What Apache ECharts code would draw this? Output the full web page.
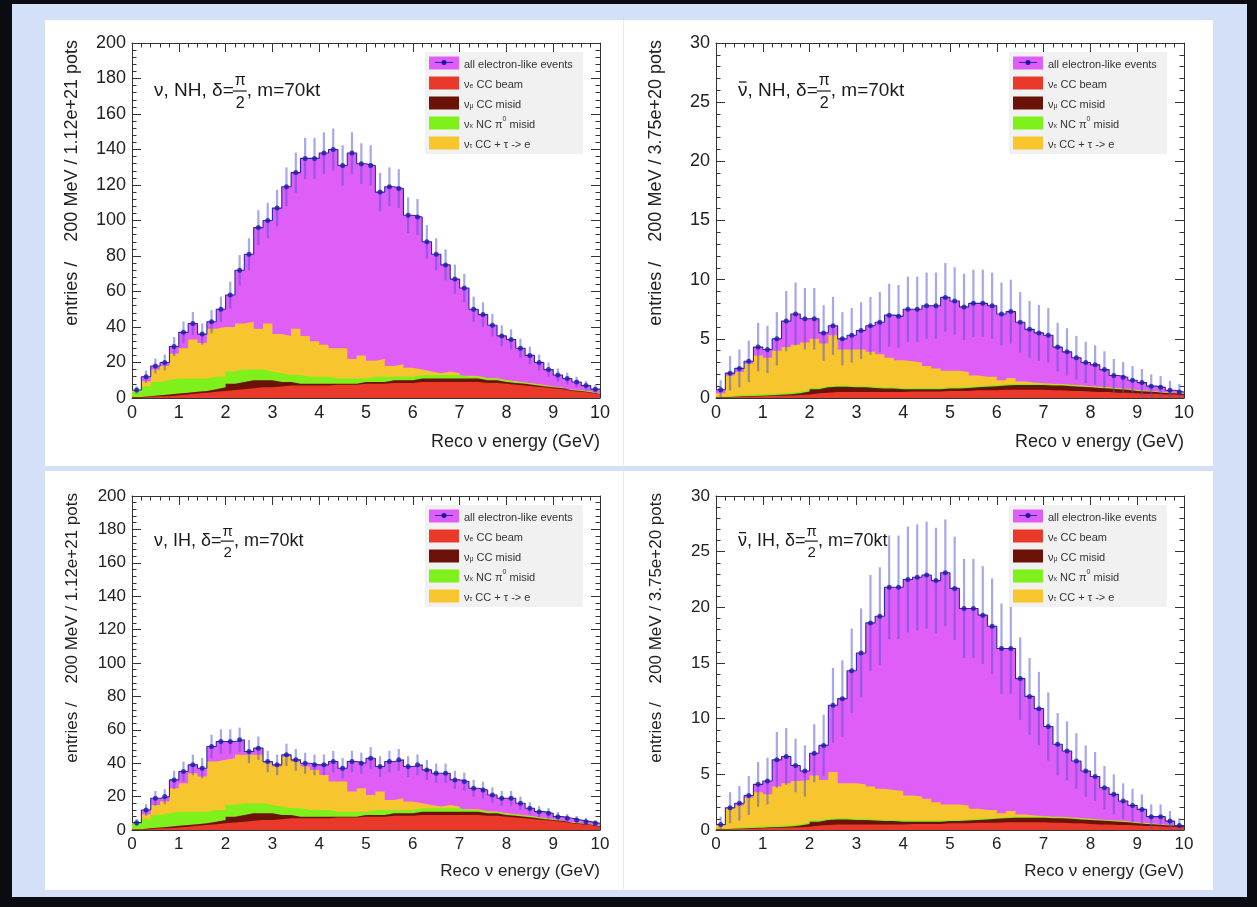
<!DOCTYPE html>
<html><head><meta charset="utf-8">
<script src="https://cdn.jsdelivr.net/npm/echarts@6/dist/echarts.min.js"></script>
<style>
html,body{margin:0;padding:0;width:1257px;height:907px;overflow:hidden;background:#0b0b12;}
#frame{position:absolute;left:12px;top:4px;width:1235px;height:893px;background:#d3e0f7;}
.pane{position:absolute;background:#fff;}
.vdiv{position:absolute;width:1px;background:#ececec;}
#chart{position:absolute;left:0;top:0;width:1257px;height:907px;}
</style></head><body>
<div id="frame"></div>
<div class="pane" style="left:45px;top:20px;width:1168px;height:446px"></div>
<div class="pane" style="left:45px;top:471px;width:1168px;height:419px"></div>
<div class="vdiv" style="left:623px;top:20px;height:446px"></div>
<div class="vdiv" style="left:623px;top:471px;height:419px"></div>
<div id="chart"></div>
<script>
// ---------------- data ----------------
const BIN_WIDTH = 0.2;   // GeV per bin (200 MeV)
const N_BINS = 50;
const X_MIN = 0, X_MAX = 10;

const seriesNames = ['all electron-like events', 'νe CC beam', 'νμ CC misid', 'νx NC π0 misid', 'ντ CC + τ -> e'];

// ν, NH
const nuNH_total = [4.5,12,18,20,29,37,42,36,43,50,58,72,81,96,100,107,119,127,135,135,138,140,131,138,132,131,116,119,118,103,102,88,81,75,67,62,50,47,41,35,33,28,24,20,16,13,11,9,7,5];
const nuNH_err   = [2.1,3.5,4.2,4.5,5.4,6.1,6.5,6,6.6,7.1,7.6,8.5,9,9.8,10,10.3,10.9,11.3,11.6,11.6,11.7,11.8,11.4,11.7,11.5,11.4,10.8,10.9,10.9,10.1,10.1,9.4,9,8.7,8.2,7.9,7.1,6.9,6.4,5.9,5.7,5.3,4.9,4.5,4,3.6,3.3,3,2.6,2.2];
const nuNH_beam  = [0.3,0.5,1,1,1.5,2,2.5,3,3.5,4,4.5,5,5.5,6,6,6.5,7,7,7,7,7,7.5,7.5,7.5,8,8,8,8.5,8.5,8.5,9,9,9,9,9,9,9,8.5,8.5,8,7.5,7,6.5,6,5.5,5,4,3.5,3,2];
const nuNH_numu  = [0.2,0.5,0.5,1,1,1,1,1,1.5,2,3.5,4,4.5,4,4,2.5,2,1,1,1,1,0.5,0.5,0.5,1,1,1,1.5,1.5,1.5,2,2,2,2,2,2,2,1.5,1.5,1,1,1,0.8,0.6,0.5,0.5,0.4,0.4,0.3,0.2];
const nuNH_nc    = [3.5,5.5,7.5,8,8.5,8,7.5,7,7,6,7,7,6,6,5,5,4,5,4,4,4,3,3,3,2,3,3,2,2,2,2,2,2,2,2,1,1,1,0.8,0.8,0.7,0.6,0.6,0.5,0.4,0.4,0.3,0.3,0.2,0.2];
const nuNH_nutau = [0.2,3,7,8,14,17,22,20,27,28,25,26,27,23,27,22,22,26,23,20,18,17,17,11,13,9,10,6,7,5,3,2,1,2,1,0.5,0.4,0.3,0.3,0.3,0.2,0.2,0.2,0.2,0.1,0.1,0.1,0.1,0.1,0.1];

// ν̄, NH
const nubarNH_total = [0.7,2.1,2.5,3.1,4.3,4.1,5.0,6.5,7.1,6.7,6.7,5.5,6.1,5.0,5.3,5.7,6.1,6.4,7.0,6.9,7.5,7.5,7.8,7.8,8.5,8.2,7.7,8.0,8.0,7.8,7.1,7.3,6.4,5.8,5.5,5.3,4.3,3.9,3.4,3.0,2.8,2.4,1.9,1.75,1.5,1.3,1.0,0.9,0.65,0.5];
const nubarNH_err   = [0.8,1.45,1.6,1.75,2.05,2.0,2.25,2.55,2.65,2.6,2.6,2.35,2.45,2.25,2.3,2.4,2.45,2.55,2.65,2.65,2.75,2.75,2.8,2.8,2.9,2.85,2.8,2.85,2.85,2.8,2.65,2.7,2.55,2.4,2.35,2.3,2.05,2.0,1.85,1.75,1.65,1.55,1.4,1.3,1.2,1.15,1.0,0.95,0.8,0.7];
const nubarNH_beam  = [0.05,0.08,0.1,0.12,0.15,0.18,0.2,0.22,0.25,0.3,0.4,0.45,0.5,0.5,0.5,0.5,0.5,0.5,0.5,0.5,0.55,0.55,0.55,0.55,0.6,0.6,0.6,0.65,0.65,0.65,0.7,0.7,0.7,0.7,0.7,0.65,0.65,0.6,0.6,0.55,0.5,0.5,0.45,0.45,0.4,0.35,0.35,0.3,0.3,0.25];
const nubarNH_numu  = [0.02,0.03,0.04,0.05,0.05,0.06,0.08,0.1,0.15,0.25,0.35,0.45,0.45,0.45,0.4,0.4,0.35,0.3,0.3,0.25,0.2,0.2,0.2,0.2,0.2,0.2,0.25,0.25,0.3,0.35,0.35,0.4,0.4,0.4,0.4,0.4,0.4,0.4,0.35,0.35,0.35,0.3,0.3,0.25,0.2,0.2,0.15,0.12,0.1,0.08];
const nubarNH_nc    = [0.05,0.1,0.1,0.12,0.12,0.12,0.12,0.12,0.12,0.12,0.12,0.1,0.1,0.1,0.1,0.1,0.1,0.1,0.1,0.1,0.1,0.1,0.1,0.1,0.1,0.1,0.1,0.1,0.1,0.1,0.1,0.1,0.1,0.1,0.1,0.08,0.08,0.08,0.08,0.06,0.06,0.06,0.05,0.05,0.05,0.04,0.04,0.03,0.03,0.02];
const nubarNH_nutau = [0.28,1.69,1.96,2.61,3.28,3.04,3.6,3.86,3.98,4.03,4.13,3.6,4.25,3.05,3.1,3.1,2.95,2.8,2.5,2.35,2.25,2.15,1.85,1.65,1.4,1.4,1.25,0.9,0.75,0.7,0.35,0.5,0.2,0.1,0.05,0.07,0.05,0.05,0.04,0.04,0.04,0.04,0.03,0.03,0.03,0.03,0.02,0.02,0.02,0.02];

// ν, IH
const nuIH_total = [4.4,12,19,20,30,35,39,37,50,53,53,54,47,49,41,39,45,42,40,39,39,41,37,41,40,43,38,41,42,38,39,36,34,34,30,29,25,24,21,19,19,16,13,11,10,8,7,6,5,4];
const nuIH_err   = [2.1,3.5,4.4,4.5,5.5,5.9,6.2,6.1,7.1,7.3,7.3,7.3,6.9,7,6.4,6.2,6.7,6.5,6.3,6.2,6.2,6.4,6.1,6.4,6.3,6.6,6.2,6.4,6.5,6.2,6.2,6,5.8,5.8,5.5,5.4,5,4.9,4.6,4.4,4.4,4,3.6,3.3,3.2,2.8,2.6,2.4,2.2,2];
const nuIH_beam  = [0.3,0.5,1,1,1.5,2,2.5,3,3.5,4,4.5,5,5.5,6,6,6.5,7,7,7,7,7,7.5,7.5,7.5,8,8,8,8.5,8.5,8.5,9,9,9,9,9,9,9,8.5,8.5,8,7.5,7,6.5,6,5.5,5,4,3.5,3,2];
const nuIH_numu  = [0.2,0.5,0.5,1,1,1,1,1,1.5,2,3.5,4,4.5,4,4,2.5,2,1,1,1,1,0.5,0.5,0.5,1,1,1,1.5,1.5,1.5,2,2,2,2,2,2,2,1.5,1.5,1,1,1,0.8,0.6,0.5,0.5,0.4,0.4,0.3,0.2];
const nuIH_nc    = [3.5,5.5,7.5,8,8.5,8,7.5,7,7,6,7,7,6,6,5,5,4,5,4,4,4,3,3,3,2,3,3,2,2,2,2,2,2,2,2,1,1,1,0.8,0.8,0.7,0.6,0.6,0.5,0.4,0.4,0.3,0.3,0.2,0.2];
const nuIH_nutau = [0.2,3,6,7,14,17,23,21,29,30,28,29,29,29,25,24,31,28,26,24,21,18,18,12,14,9,11,6,7,5,3,2,1,2,1,0.5,0.4,0.3,0.3,0.3,0.2,0.2,0.2,0.2,0.1,0.1,0.1,0.1,0.1,0.1];

// ν̄, IH
const nubarIH_total = [0.5,2.0,2.4,3.1,4.1,4.4,6.3,6.6,5.8,5.3,6.9,7.6,11.2,11.8,14.3,15.9,18.6,19.2,21.8,21.8,22.5,22.7,22.9,22.4,23.1,21.7,19.9,19.9,19.3,18.3,16.3,16.3,13.6,12.0,10.9,9.3,7.7,7.1,6.2,5.3,4.8,3.8,3.2,2.6,2.2,1.85,1.2,1.2,0.8,0.4];
const nubarIH_err   = [0.7,1.4,1.55,1.75,2.0,2.1,2.5,2.55,2.4,2.3,2.6,2.75,3.35,3.45,3.8,4.0,4.3,4.4,4.65,4.65,4.75,4.75,4.8,4.75,4.8,4.65,4.45,4.45,4.4,4.3,4.05,4.05,3.7,3.45,3.3,3.05,2.8,2.65,2.5,2.3,2.2,1.95,1.8,1.6,1.5,1.35,1.1,1.1,0.9,0.65];
const nubarIH_beam  = [0.05,0.08,0.1,0.12,0.15,0.18,0.2,0.22,0.25,0.3,0.4,0.45,0.5,0.5,0.5,0.5,0.5,0.5,0.5,0.5,0.55,0.55,0.55,0.55,0.6,0.6,0.6,0.65,0.65,0.65,0.7,0.7,0.7,0.7,0.7,0.65,0.65,0.6,0.6,0.55,0.5,0.5,0.45,0.45,0.4,0.35,0.35,0.3,0.3,0.25];
const nubarIH_numu  = [0.02,0.03,0.04,0.05,0.05,0.06,0.08,0.1,0.15,0.25,0.35,0.45,0.45,0.45,0.4,0.4,0.35,0.3,0.3,0.25,0.2,0.2,0.2,0.2,0.2,0.2,0.25,0.25,0.3,0.35,0.35,0.4,0.4,0.4,0.4,0.4,0.4,0.4,0.35,0.35,0.35,0.3,0.3,0.25,0.2,0.2,0.15,0.12,0.1,0.08];
const nubarIH_nc    = [0.05,0.1,0.1,0.12,0.12,0.12,0.12,0.12,0.12,0.12,0.12,0.1,0.1,0.1,0.1,0.1,0.1,0.1,0.1,0.1,0.1,0.1,0.1,0.1,0.1,0.1,0.1,0.1,0.1,0.1,0.1,0.1,0.1,0.1,0.1,0.08,0.08,0.08,0.08,0.06,0.06,0.06,0.05,0.05,0.05,0.04,0.04,0.03,0.03,0.02];
const nubarIH_nutau = [0.28,1.69,1.96,2.61,3.08,2.84,3.5,3.76,3.88,3.83,4.03,3.5,4.15,3.15,3.2,3.1,2.95,2.8,2.7,2.65,2.25,2.15,1.95,1.65,1.4,1.4,1.25,0.9,0.75,0.7,0.35,0.5,0.2,0.1,0.05,0.07,0.05,0.05,0.04,0.04,0.04,0.04,0.03,0.03,0.03,0.03,0.02,0.02,0.02,0.02];

const panelLabels = [
  {bar: false, hier: 'NH', pots: '1.12e+21'},
  {bar: true,  hier: 'NH', pots: '3.75e+20'},
  {bar: false, hier: 'IH', pots: '1.12e+21'},
  {bar: true,  hier: 'IH', pots: '3.75e+20'}
];
const yMaxes = [200, 30, 200, 30];
const yIntervals = [20, 5, 20, 5];

// ---------------- layout / style ----------------
const FONT = "'Liberation Sans', Arial, Helvetica, sans-serif";
const COLORS = ['#df5ef7', '#e8392b', '#6b1209', '#7ef01b', '#f7c52e'];
const AXIS_COLOR = '#333';
const TEXT_COLOR = '#222';
const layouts = [
  {left: 132, top: 43, width: 468, height: 355, s: 1},
  {left: 716, top: 43, width: 468, height: 355, s: 1},
  {left: 132, top: 496, width: 468, height: 334, s: 0.94},
  {left: 716, top: 496, width: 468, height: 334, s: 0.94}
];
const panelData = [
  [nuNH_total, nuNH_err, nuNH_beam, nuNH_numu, nuNH_nc, nuNH_nutau],
  [nubarNH_total, nubarNH_err, nubarNH_beam, nubarNH_numu, nubarNH_nc, nubarNH_nutau],
  [nuIH_total, nuIH_err, nuIH_beam, nuIH_numu, nuIH_nc, nuIH_nutau],
  [nubarIH_total, nubarIH_err, nubarIH_beam, nubarIH_numu, nubarIH_nc, nubarIH_nutau]
];

const legendFormat = {
  'all electron-like events': '{t|all electron-like events}',
  'νe CC beam': '{t|ν}{s|e}{t| CC beam}',
  'νμ CC misid': '{t|ν}{s|μ}{t| CC misid}',
  'νx NC π0 misid': '{t|ν}{s|x}{t| NC π}{p|0}{t| misid}',
  'ντ CC + τ -> e': '{t|ν}{s|τ}{t| CC + τ -> e}'
};

function stepData(vals) {
  const d = vals.map((v, i) => [i * BIN_WIDTH, v]);
  d.push([N_BINS * BIN_WIDTH, vals[vals.length - 1]]);
  return d;
}
function addArrays(a, b) { return a.map((v, i) => v + b[i]); }

const measureCtx = document.createElement('canvas').getContext('2d');
function textWidth(t, font) { measureCtx.font = font; return measureCtx.measureText(t).width; }

const grids = [], xAxes = [], yAxes = [], series = [], legends = [], graphics = [];

layouts.forEach((L, p) => {
  const s = L.s;
  grids.push({left: L.left, top: L.top, width: L.width, height: L.height, containLabel: false, show: false});
  const tickCommon = {
    axisLine: {show: true, onZero: false, lineStyle: {color: AXIS_COLOR, width: 1}},
    axisTick: {show: true, inside: true, length: 9, lineStyle: {color: AXIS_COLOR, width: 1}},
    minorTick: {show: true, splitNumber: 5, length: 4.5, lineStyle: {color: AXIS_COLOR, width: 1}},
    splitLine: {show: false}, minorSplitLine: {show: false}
  };
  xAxes.push(Object.assign({gridIndex: p, type: 'value', min: X_MIN, max: X_MAX, interval: 1, position: 'bottom',
    axisLabel: {show: true, fontSize: Math.round(18 * s), color: TEXT_COLOR, fontFamily: FONT, margin: 6}}, tickCommon));
  xAxes.push(Object.assign({gridIndex: p, type: 'value', min: X_MIN, max: X_MAX, interval: 1, position: 'top',
    axisLabel: {show: false}}, tickCommon));
  yAxes.push(Object.assign({gridIndex: p, type: 'value', min: 0, max: yMaxes[p], interval: yIntervals[p], position: 'left',
    axisLabel: {show: true, fontSize: Math.round(18 * s), color: TEXT_COLOR, fontFamily: FONT, margin: 6}}, tickCommon));
  yAxes.push(Object.assign({gridIndex: p, type: 'value', min: 0, max: yMaxes[p], interval: yIntervals[p], position: 'right',
    axisLabel: {show: false}}, tickCommon));

  const [total, err, beam, numu, nc, nutau] = panelData[p];
  const xi = 2 * p, yi = 2 * p;
  // cumulative stack tops (red at bottom, then brown, green, yellow)
  const cumBeam = beam.slice();
  const cumNumu = addArrays(cumBeam, numu);
  const cumNc = addArrays(cumNumu, nc);
  const cumNutau = addArrays(cumNc, nutau);
  // drawn back-to-front, each area from 0 up to its stack top
  const layers = [
    {name: seriesNames[0], vals: total, color: COLORS[0], line: {color: '#2b2aa3', width: 1.1}},
    {name: seriesNames[4], vals: cumNutau, color: COLORS[4]},
    {name: seriesNames[3], vals: cumNc, color: COLORS[3]},
    {name: seriesNames[2], vals: cumNumu, color: COLORS[2]},
    {name: seriesNames[1], vals: cumBeam, color: COLORS[1]}
  ];
  layers.forEach((ly) => {
    series.push({
      name: ly.name, type: 'line', xAxisIndex: xi, yAxisIndex: yi, step: 'end', symbol: 'none',
      data: stepData(ly.vals), color: ly.color,
      lineStyle: ly.line || {width: 0, color: ly.color},
      areaStyle: {color: ly.color, opacity: 1, origin: 'start'}, silent: true, z: 2
    });
  });
  // error bars
  series.push({
    type: 'custom', xAxisIndex: xi, yAxisIndex: yi, silent: true, z: 3,
    data: total.map((v, i) => [(i + 0.5) * BIN_WIDTH, Math.max(0, v - err[i]), v + err[i]]),
    encode: {x: 0, y: [1, 2]},
    renderItem: function (params, api) {
      const a = api.coord([api.value(0), api.value(1)]);
      const b = api.coord([api.value(0), api.value(2)]);
      return {type: 'line', shape: {x1: a[0], y1: a[1], x2: b[0], y2: b[1]},
        style: {stroke: 'rgba(80,80,215,0.5)', lineWidth: 2.2}};
    }
  });
  // data points
  series.push({
    type: 'scatter', xAxisIndex: xi, yAxisIndex: yi, silent: true, z: 4, symbol: 'circle', symbolSize: 5,
    itemStyle: {color: '#1a1aa6'},
    data: total.map((v, i) => [(i + 0.5) * BIN_WIDTH, v])
  });

  // legend box
  const legLeft = L.left + L.width - 175, legTop = L.top + 9;
  legends.push({
    show: true, selectedMode: false, orient: 'vertical', left: legLeft, top: legTop,
    backgroundColor: '#f1f1f1', borderWidth: 0, padding: [4, 10, 4, 4],
    itemWidth: 30, itemHeight: 13, itemGap: 6, icon: 'rect',
    itemStyle: {borderWidth: 0},
    data: seriesNames.map((n, k) => ({name: n, icon: 'rect', itemStyle: {color: COLORS[k], borderWidth: 0}})),
    formatter: (name) => legendFormat[name],
    textStyle: {
      color: '#333', fontFamily: FONT, fontSize: 11, lineHeight: 14,
      rich: {
        t: {fontSize: 11, fontFamily: FONT, color: '#333', lineHeight: 14, verticalAlign: 'bottom'},
        s: {fontSize: 7, fontFamily: FONT, color: '#333', lineHeight: 12, verticalAlign: 'bottom'},
        p: {fontSize: 7, fontFamily: FONT, color: '#333', lineHeight: 14, verticalAlign: 'top'}
      }
    }
  });
  // marker drawn over first legend swatch
  graphics.push({type: 'line', shape: {x1: legLeft + 10, y1: legTop + 10.5, x2: legLeft + 28, y2: legTop + 10.5},
    style: {stroke: '#2b2aa3', lineWidth: 1}, z: 100});
  graphics.push({type: 'circle', shape: {cx: legLeft + 19, cy: legTop + 10.5, r: 2.5},
    style: {fill: '#1a1aa6'}, z: 100});

  // axis titles
  const lab = panelLabels[p];
  const titleFont = Math.round(18 * s) + 'px ' + FONT;
  graphics.push({type: 'text', x: L.left + L.width, y: L.top + L.height + 44 * s, z: 100,
    style: {text: 'Reco ν energy (GeV)', font: titleFont, fill: TEXT_COLOR, align: 'right', verticalAlign: 'middle'}});
  graphics.push({type: 'text', x: L.left - 60, y: L.top - 3, rotation: Math.PI / 2, z: 100,
    style: {text: 'entries /    200 MeV / ' + lab.pots + ' pots', font: titleFont, fill: TEXT_COLOR, align: 'right', verticalAlign: 'middle'}});

  // annotation  "ν, NH, δ=π/2, m=70kt"
  const annFont = Math.round(19 * s) + 'px ' + FONT;
  const fracFont = Math.round(16 * s) + 'px ' + FONT;
  const ax = L.left + 22, ay = L.top + 48 * s;
  const prefix = 'ν, ' + lab.hier + ', δ=';
  const w1 = textWidth(prefix, annFont);
  const wNu = textWidth('ν', annFont);
  const fw = textWidth('π', fracFont) + 2;
  graphics.push({type: 'text', x: ax, y: ay, z: 100,
    style: {text: prefix, font: annFont, fill: '#1a1a1a', align: 'left', verticalAlign: 'middle'}});
  if (lab.bar) {
    graphics.push({type: 'line', shape: {x1: ax + 1, y1: ay - 9 * s, x2: ax + wNu - 1, y2: ay - 9 * s}, z: 100,
      style: {stroke: '#1a1a1a', lineWidth: 1.3}});
  }
  graphics.push({type: 'text', x: ax + w1 + fw / 2, y: ay - 2, z: 100,
    style: {text: 'π', font: fracFont, fill: '#1a1a1a', align: 'center', verticalAlign: 'bottom'}});
  graphics.push({type: 'line', shape: {x1: ax + w1 - 1, y1: ay, x2: ax + w1 + fw, y2: ay}, z: 100,
    style: {stroke: '#1a1a1a', lineWidth: 1.2}});
  graphics.push({type: 'text', x: ax + w1 + fw / 2, y: ay + 5 * s, z: 100,
    style: {text: '2', font: fracFont, fill: '#1a1a1a', align: 'center', verticalAlign: 'top'}});
  graphics.push({type: 'text', x: ax + w1 + fw, y: ay, z: 100,
    style: {text: ', m=70kt', font: annFont, fill: '#1a1a1a', align: 'left', verticalAlign: 'middle'}});
});

const chart = echarts.init(document.getElementById('chart'), null, {renderer: 'canvas'});
chart.setOption({
  backgroundColor: 'transparent',
  animation: false,
  textStyle: {fontFamily: FONT},
  grid: grids, xAxis: xAxes, yAxis: yAxes,
  legend: legends,
  series: series,
  graphic: {elements: graphics}
});
</script>
</body></html>
